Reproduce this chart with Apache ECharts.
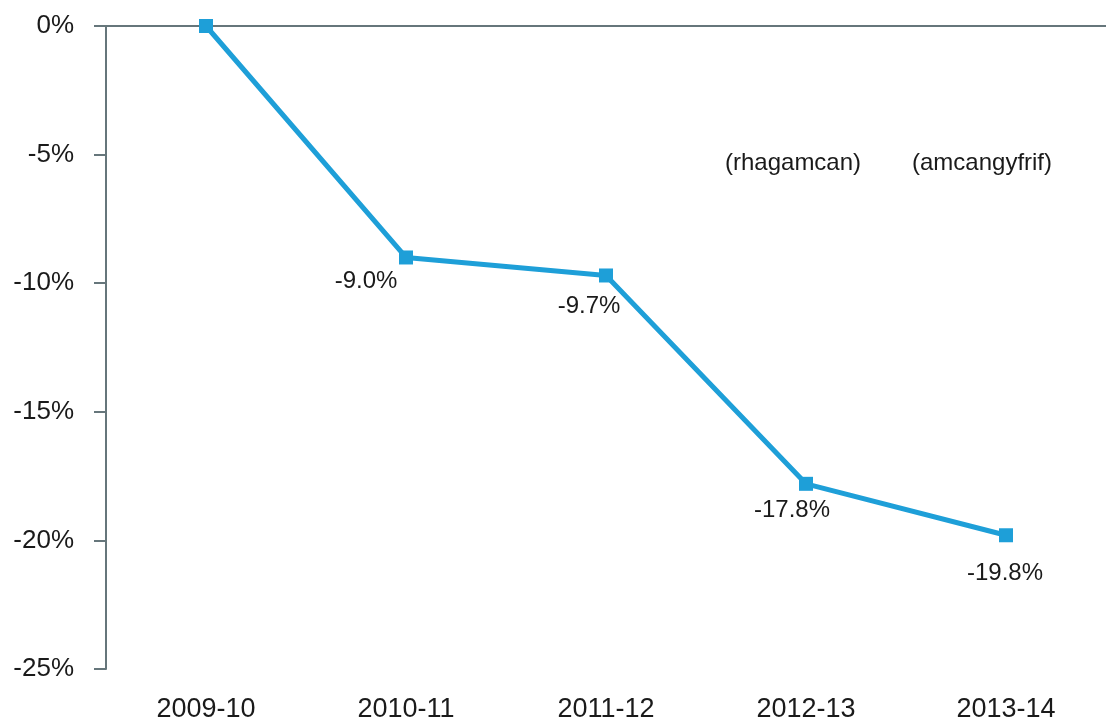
<!DOCTYPE html>
<html>
<head>
<meta charset="utf-8">
<script src="https://cdn.jsdelivr.net/npm/echarts@6/dist/echarts.min.js"></script>
<style>html,body{margin:0;padding:0;background:#fff}#c{width:1106px;height:724px}</style>
</head>
<body>
<div id="c"></div>
<script>
const categories = ['2009-10', '2010-11', '2011-12', '2012-13', '2013-14'];
const values = [0, -9.0, -9.7, -17.8, -19.8];
const showLabel = [false, true, true, true, true];
const labelOffsets = [[0, 0], [-40, 24], [-17, 31], [-14, 27], [-1, 38]];
const yTicks = [0, -5, -10, -15, -20, -25];
const notes = ['(rhagamcan)', '(amcangyfrif)'];

const font = '"Liberation Sans", Arial, sans-serif';
const chart = echarts.init(document.getElementById('c'));
chart.setOption({
  backgroundColor: '#ffffff',
  animation: false,
  grid: { left: 106, right: -6, top: 26, bottom: 55 },
  xAxis: [{
    type: 'category', data: categories, position: 'bottom',
    axisLine: { show: false }, axisTick: { show: false },
    axisLabel: { fontFamily: font, fontSize: 27, color: '#1a1a1a', margin: 27 }
  }, {
    type: 'category', data: categories, position: 'top',
    axisLine: { show: true, onZero: false, lineStyle: { color: '#66767b', width: 2 } },
    axisTick: { show: false }, axisLabel: { show: false }
  }],
  yAxis: {
    type: 'value', min: -25, max: 0, interval: 5,
    axisLine: { show: true, lineStyle: { color: '#66767b', width: 2 } },
    axisTick: { show: true, inside: false, length: 12, lineStyle: { color: '#66767b', width: 2 } },
    splitLine: { show: false },
    axisLabel: { fontFamily: font, fontSize: 26, color: '#1a1a1a', margin: 32,
      formatter: v => (yTicks.includes(v) ? v + '%' : '') }
  },
  series: [{
    type: 'line',
    data: values.map((v, i) => ({
      value: v,
      label: {
        show: showLabel[i], position: 'inside', offset: labelOffsets[i],
        formatter: p => p.value.toFixed(1) + '%',
        fontFamily: font, fontSize: 24, color: '#1a1a1a'
      }
    })),
    symbol: 'rect', symbolSize: 14,
    lineStyle: { color: '#1e9fd8', width: 5 },
    itemStyle: { color: '#1e9fd8' }
  }],
  graphic: [
    { type: 'text', x: 725, y: 163, style: { text: notes[0], font: '24px ' + font, fill: '#1a1a1a', verticalAlign: 'middle' } },
    { type: 'text', x: 912, y: 163, style: { text: notes[1], font: '24px ' + font, fill: '#1a1a1a', verticalAlign: 'middle' } }
  ]
});
</script>
</body>
</html>
